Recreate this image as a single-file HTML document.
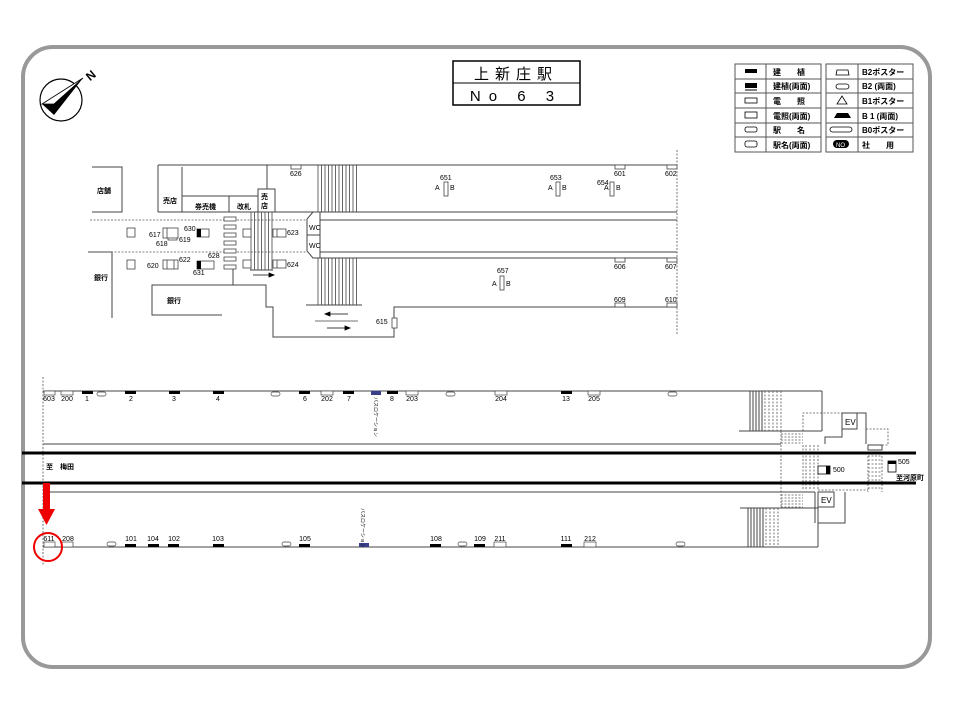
<!DOCTYPE html>
<html><head><meta charset="utf-8"><style>
html,body{margin:0;padding:0;background:#fff;}
svg{display:block;}
text{font-family:"Liberation Sans","Noto Sans CJK JP",sans-serif;fill:#000;}
.s{font-size:7px;}
</style></head><body>
<svg width="960" height="720" viewBox="0 0 960 720" xmlns="http://www.w3.org/2000/svg">
<rect x="0" y="0" width="960" height="720" fill="#fff"/>
<rect x="23" y="47" width="907" height="620" rx="30" ry="30" fill="none" stroke="#999" stroke-width="4"/>

<!-- compass -->
<circle cx="61" cy="100" r="21" fill="none" stroke="#000" stroke-width="1.2"/>
<polygon points="83,78 42,104 54,115" fill="#000"/>
<polygon points="83,78 42,104 54,104" fill="#fff" stroke="#000" stroke-width="0.8"/>
<text x="86" y="80" font-size="12" font-weight="bold" transform="rotate(-40 90 75)">N</text>

<!-- title -->
<rect x="453" y="61" width="127" height="44" fill="none" stroke="#000" stroke-width="1.5"/>
<line x1="453" y1="83" x2="580" y2="83" stroke="#000" stroke-width="1"/>
<text x="516" y="79" font-size="15" text-anchor="middle" letter-spacing="6">上新庄駅</text>
<text x="516" y="101" font-size="15" text-anchor="middle" letter-spacing="8">No 6 3</text>

<!-- legend -->
<g stroke="#555" stroke-width="1" fill="none">
<rect x="735" y="64" width="86" height="88"/><line x1="766" y1="64" x2="766" y2="152"/>
<rect x="826" y="64" width="87" height="88"/><line x1="858" y1="64" x2="858" y2="152"/>
<line x1="735" y1="79" x2="821" y2="79"/><line x1="735" y1="93" x2="821" y2="93"/><line x1="735" y1="108" x2="821" y2="108"/><line x1="735" y1="123" x2="821" y2="123"/><line x1="735" y1="137" x2="821" y2="137"/>
<line x1="826" y1="79" x2="913" y2="79"/><line x1="826" y1="93" x2="913" y2="93"/><line x1="826" y1="108" x2="913" y2="108"/><line x1="826" y1="123" x2="913" y2="123"/><line x1="826" y1="137" x2="913" y2="137"/>
</g>
<g font-size="8" font-weight="bold">
<text x="773" y="75">建　　植</text><text x="773" y="89">建植(両面)</text><text x="773" y="104">電　　照</text><text x="773" y="119">電照(両面)</text><text x="773" y="133">駅　　名</text><text x="773" y="148">駅名(両面)</text>
<text x="862" y="75">B2ポスター</text><text x="862" y="89">B2 (両面)</text><text x="862" y="104">B1ポスター</text><text x="862" y="119">B 1 (両面)</text><text x="862" y="133">B0ポスター</text><text x="862" y="148">社　　用</text>
</g>
<rect x="745" y="69" width="12" height="4" fill="#000"/>
<rect x="745" y="83" width="12" height="5" fill="#000"/><line x1="745" y1="90" x2="757" y2="90" stroke="#000"/>
<rect x="745" y="98" width="12" height="5" fill="none" stroke="#000" stroke-width="0.8"/>
<rect x="745" y="112" width="12" height="6" fill="none" stroke="#000" stroke-width="0.8"/>
<rect x="745" y="127" width="12" height="5" rx="2" fill="none" stroke="#000" stroke-width="0.8"/>
<rect x="745" y="141" width="12" height="6" rx="2" fill="none" stroke="#000" stroke-width="0.8"/>
<path d="M836,75 L837,70 L848,70 L849,75 Z" fill="none" stroke="#000" stroke-width="0.8"/>
<rect x="836" y="84" width="13" height="5" rx="2.5" fill="none" stroke="#000" stroke-width="0.8"/>
<polygon points="842,96 837,104 847,104" fill="none" stroke="#000" stroke-width="0.8"/>
<path d="M834,118 L837,113 L848,113 L851,118 Z" fill="#000"/>
<rect x="830" y="127" width="22" height="5" rx="2.5" fill="none" stroke="#000" stroke-width="0.8"/>
<rect x="833" y="140" width="16" height="8" rx="4" fill="#000"/><text x="836" y="147" font-size="6" style="fill:#fff">NO</text>

<!-- upper plan -->
<g stroke="#444" stroke-width="1" fill="none">
<polyline points="92,167 122,167 122,212 92,212"/>
<line x1="158" y1="165" x2="677" y2="165"/>
<line x1="158" y1="165" x2="158" y2="212"/>
<line x1="158" y1="212" x2="317" y2="212"/>
<line x1="182" y1="167" x2="182" y2="212"/>
<line x1="182" y1="196" x2="258" y2="196"/>
<line x1="229" y1="196" x2="229" y2="212"/>
<rect x="258" y="189" width="17" height="23"/>
<line x1="267" y1="165" x2="267" y2="189"/>
<line x1="320" y1="212" x2="677" y2="212"/>
<line x1="320" y1="220" x2="677" y2="220"/>
<line x1="320" y1="252" x2="677" y2="252"/>
<line x1="320" y1="258" x2="677" y2="258"/>
<polygon points="313,212 320,212 320,258 313,258 307,251 307,219"/>
<line x1="307" y1="235" x2="320" y2="235"/>
<line x1="88" y1="252" x2="112" y2="252"/><line x1="112" y1="252" x2="112" y2="318"/>
<polyline points="222,315 152,315 152,285 266,285 266,307 273,307 273,337 394,337 394,307 677,307"/>
<line x1="306" y1="305" x2="362" y2="305"/>
<line x1="233" y1="268" x2="233" y2="285"/>
<line x1="250" y1="270" x2="273" y2="270"/>
</g>
<g stroke="#555" stroke-width="0.8" stroke-dasharray="2,1.5">
<line x1="90" y1="220" x2="307" y2="220"/>
<line x1="90" y1="252" x2="307" y2="252"/>
<line x1="677" y1="150" x2="677" y2="335"/>
</g>
<!-- stair lines -->
<g stroke="#444" stroke-width="0.8">
<path d="M318,165V212M321.5,165V212M325,165V212M328.5,165V212M332,165V212M335.5,165V212M339,165V212M342.5,165V212M346,165V212M349.5,165V212M353,165V212M356.5,165V212"/>
<path d="M318,258V305M321.5,258V305M325,258V305M328.5,258V305M332,258V305M335.5,258V305M339,258V305M342.5,258V305M346,258V305M349.5,258V305M353,258V305M356.5,258V305"/>
<path d="M251,212V270M254.5,212V270M258,212V270M261.5,212V270M265,212V270M268.5,212V270M272,212V270"/>
</g>
<g stroke="#444" stroke-width="0.8" fill="#fff">
<rect x="224" y="217" width="12" height="4"/><rect x="224" y="225" width="12" height="4"/><rect x="224" y="233" width="12" height="4"/><rect x="224" y="241" width="12" height="4"/><rect x="224" y="249" width="12" height="4"/><rect x="224" y="257" width="12" height="4"/><rect x="224" y="265" width="12" height="4"/>
<rect x="127" y="228" width="8" height="9"/><rect x="127" y="260" width="8" height="9"/>
<rect x="243" y="229" width="8" height="8"/><rect x="243" y="260" width="8" height="8"/>
<rect x="168" y="232" width="9" height="8"/>
<rect x="163" y="228" width="15" height="10"/><line x1="167" y1="228" x2="167" y2="238"/>
<rect x="163" y="260" width="15" height="9"/><line x1="167" y1="260" x2="167" y2="269"/><line x1="174" y1="260" x2="174" y2="269"/>
<rect x="197" y="229" width="12" height="8"/><rect x="197" y="261" width="17" height="8"/>
<rect x="273" y="229" width="13" height="8"/><line x1="277" y1="229" x2="277" y2="237"/>
<rect x="273" y="260" width="13" height="8"/><line x1="277" y1="260" x2="277" y2="268"/>
<rect x="392" y="318" width="5" height="10"/>
<rect x="291" y="165" width="10" height="4"/>
<rect x="615" y="165" width="10" height="4"/><rect x="667" y="165" width="10" height="4"/>
<rect x="615" y="258" width="10" height="4"/><rect x="667" y="258" width="10" height="4"/>
<rect x="615" y="303" width="10" height="4"/><rect x="667" y="303" width="10" height="4"/>
<rect x="444" y="182" width="4" height="14"/><rect x="556" y="182" width="4" height="14"/><rect x="610" y="182" width="4" height="14"/><rect x="500" y="276" width="4" height="14"/>
</g>
<rect x="197" y="229" width="4" height="8" fill="#000"/><rect x="197" y="261" width="4" height="8" fill="#000"/>
<g stroke="#000" stroke-width="0.8" fill="#000">
<line x1="253" y1="275" x2="272" y2="275"/><polygon points="274,275 269,273 269,277"/>
<line x1="327" y1="314" x2="348" y2="314"/><polygon points="325,314 330,312 330,316"/>
<line x1="315" y1="321" x2="358" y2="321" stroke="#444"/>
<line x1="327" y1="328" x2="348" y2="328"/><polygon points="350,328 345,326 345,330"/>
</g>
<g font-size="7" font-weight="bold">
<text x="97" y="193">店舗</text><text x="163" y="203">売店</text><text x="195" y="209">券売機</text><text x="237" y="209">改札</text>
<text x="261" y="199">売</text><text x="261" y="208">店</text>
<text x="94" y="280">銀行</text><text x="167" y="303">銀行</text>
</g>
<g class="s">
<text x="309" y="230" font-size="7">WC</text><text x="309" y="248" font-size="7">WC</text>
<text x="290" y="176">626</text><text x="440" y="180">651</text><text x="435" y="190">A</text><text x="450" y="190">B</text>
<text x="550" y="180">653</text><text x="548" y="190">A</text><text x="562" y="190">B</text>
<text x="597" y="185">654</text><text x="604" y="190">A</text><text x="616" y="190">B</text>
<text x="614" y="176">601</text><text x="665" y="176">602</text>
<text x="497" y="273">657</text><text x="492" y="286">A</text><text x="506" y="286">B</text>
<text x="614" y="269">606</text><text x="665" y="269">607</text>
<text x="614" y="302">609</text><text x="665" y="302">610</text>
<text x="149" y="237">617</text><text x="156" y="246">618</text><text x="179" y="242">619</text><text x="184" y="231">630</text>
<text x="147" y="268">620</text><text x="179" y="262">622</text><text x="208" y="258">628</text><text x="193" y="275">631</text>
<text x="287" y="235">623</text><text x="287" y="267">624</text><text x="376" y="324">615</text>
</g>

<!-- platform -->
<g stroke="#555" stroke-width="0.8" stroke-dasharray="2,1.5" fill="none">
<line x1="43" y1="377" x2="43" y2="565"/>
<polyline points="803,431 803,413 842,413"/>
<polyline points="866,429 888,429 888,445 868,445"/>
<line x1="781" y1="431" x2="781" y2="507"/>
<line x1="803" y1="445" x2="803" y2="490"/>
<path d="M781,434H803M781,437H803M781,440H803M781,443H803M781,495H803M781,498H803M781,501H803M781,504H803M781,507H803"/>
<path d="M806,445V490M810,445V490M814,445V490M818,445V490"/>
<path d="M868,456H882M868,460H882M868,464H882M868,468H882M868,472H882M868,476H882M868,480H882M868,484H882M868,488H882M868,456V492M882,456V492"/>
<line x1="818" y1="490" x2="868" y2="490"/>
<path d="M765,391V431M769,391V431M773,391V431M777,391V431M781,391V431M766,508V547M770,508V547M774,508V547M778,508V547"/>
</g>
<g stroke="#444" stroke-width="1" fill="none">
<line x1="43" y1="391" x2="822" y2="391"/><line x1="822" y1="391" x2="822" y2="431"/>
<line x1="739" y1="431" x2="822" y2="431"/>
<line x1="43" y1="444" x2="781" y2="444"/>
<line x1="43" y1="492" x2="815" y2="492"/><line x1="815" y1="492" x2="815" y2="523"/>
<line x1="43" y1="547" x2="818" y2="547"/>
<rect x="842" y="413" width="15" height="16"/>
<polyline points="857,413 866,413 866,444"/>
<polyline points="842,429 842,437 825,437 825,444"/>
<rect x="868" y="445" width="14" height="5"/>
<rect x="818" y="492" width="16" height="15"/>
<polyline points="818,507 818,547"/>
<polyline points="818,523 845,523 845,492"/>
<line x1="740" y1="508" x2="818" y2="508"/>
<path d="M750,391V431M753,391V431M756,391V431M759,391V431M762,391V431M748,508V547M751,508V547M754,508V547M757,508V547M760,508V547M763,508V547"/>
</g>
<line x1="22" y1="453" x2="916" y2="453" stroke="#000" stroke-width="3"/>
<line x1="22" y1="483" x2="916" y2="483" stroke="#000" stroke-width="3"/>
<rect x="818" y="466" width="12" height="8" fill="#fff" stroke="#000" stroke-width="0.8"/><rect x="826" y="466" width="4" height="8" fill="#000"/>
<rect x="888" y="461" width="8" height="11" fill="#fff" stroke="#000" stroke-width="0.8"/><rect x="888" y="461" width="8" height="3" fill="#000"/>
<g font-size="8"><text x="845" y="425">EV</text><text x="821" y="503">EV</text></g>
<g class="s"><text x="833" y="472">500</text><text x="898" y="464">505</text><text x="896" y="480" font-weight="bold">至河原町</text>
<text x="46" y="469" font-weight="bold">至　梅田</text></g>

<!-- top row items -->
<g fill="#fff" stroke="#444" stroke-width="0.7">
<rect x="44" y="391" width="11" height="4"/><rect x="61" y="391" width="12" height="4"/>
<rect x="97" y="392" width="9" height="4" rx="2"/><rect x="271" y="392" width="9" height="4" rx="2"/>
<rect x="321" y="391" width="12" height="4"/><rect x="406" y="391" width="12" height="4"/>
<rect x="446" y="392" width="9" height="4" rx="2"/><rect x="495" y="391" width="12" height="4"/>
<rect x="588" y="391" width="12" height="4"/><rect x="668" y="392" width="9" height="4" rx="2"/>
<rect x="44" y="542" width="11" height="5"/><rect x="62" y="542" width="11" height="5"/>
<rect x="107" y="542" width="9" height="4" rx="2"/><rect x="282" y="542" width="9" height="4" rx="2"/>
<rect x="458" y="542" width="9" height="4" rx="2"/><rect x="494" y="542" width="12" height="5"/>
<rect x="584" y="542" width="12" height="5"/><rect x="676" y="542" width="9" height="4" rx="2"/>
</g>
<g fill="#000">
<rect x="82" y="391" width="11" height="3"/><rect x="125" y="391" width="11" height="3"/><rect x="169" y="391" width="11" height="3"/><rect x="213" y="391" width="11" height="3"/>
<rect x="299" y="391" width="11" height="3"/><rect x="343" y="391" width="11" height="3"/><rect x="387" y="391" width="11" height="3"/><rect x="561" y="391" width="11" height="3"/>
<rect x="125" y="544" width="11" height="3"/><rect x="148" y="544" width="11" height="3"/><rect x="168" y="544" width="11" height="3"/><rect x="213" y="544" width="11" height="3"/>
<rect x="299" y="544" width="11" height="3"/><rect x="430" y="544" width="11" height="3"/><rect x="474" y="544" width="11" height="3"/><rect x="561" y="544" width="11" height="3"/>
</g>
<rect x="371" y="391" width="10" height="4" fill="#3a3f8a"/><rect x="359" y="543" width="10" height="4" fill="#3a3f8a"/>
<g class="s" text-anchor="middle">
<text x="49" y="401">603</text><text x="67" y="401">200</text><text x="87" y="401">1</text><text x="131" y="401">2</text><text x="174" y="401">3</text><text x="218" y="401">4</text>
<text x="305" y="401">6</text><text x="327" y="401">202</text><text x="349" y="401">7</text><text x="392" y="401">8</text><text x="412" y="401">203</text><text x="501" y="401">204</text><text x="566" y="401">13</text><text x="594" y="401">205</text>
<text x="49" y="541">611</text><text x="68" y="541">208</text><text x="131" y="541">101</text><text x="153" y="541">104</text><text x="174" y="541">102</text><text x="218" y="541">103</text><text x="305" y="541">105</text>
<text x="436" y="541">108</text><text x="480" y="541">109</text><text x="500" y="541">211</text><text x="566" y="541">111</text><text x="590" y="541">212</text>
</g>
<text x="374" y="397" font-size="5" transform="rotate(90 374 397)">バスロケーション</text>
<text x="361" y="508" font-size="5" transform="rotate(90 361 508)">バスロケーション</text>

<!-- red arrow & circle -->
<rect x="43" y="483" width="7" height="26" fill="#e00"/>
<polygon points="38,509 55,509 46.5,525" fill="#e00"/>
<circle cx="48" cy="547" r="14" fill="none" stroke="#e00" stroke-width="2"/>
</svg>
</body></html>
